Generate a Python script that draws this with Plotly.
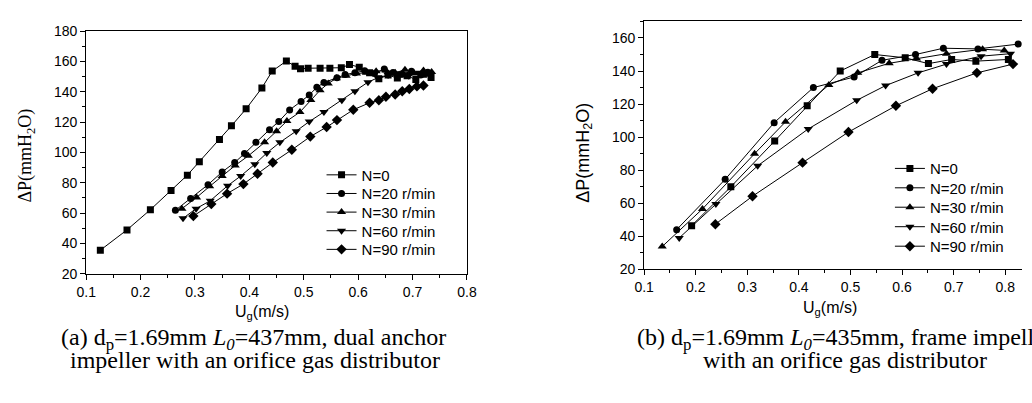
import plotly.graph_objects as go

# ---------------- data (a) dual anchor impeller ----------------
a_n0_x = [0.126, 0.175, 0.218, 0.256, 0.286, 0.308, 0.345, 0.367, 0.394, 0.423, 0.442, 0.468, 0.484, 0.494,
          0.508, 0.530, 0.548, 0.569, 0.584, 0.602, 0.621, 0.638, 0.655, 0.672, 0.690, 0.706, 0.720, 0.734]
a_n0_y = [35.5, 48.9, 62.2, 74.9, 85.0, 93.9, 108.5, 117.5, 128.7, 142.5, 153.6, 160.2, 156.8, 155.1,
          155.5, 155.5, 155.5, 155.8, 157.9, 156.2, 152.5, 148.5, 151.0, 149.0, 150.5, 148.0, 151.5, 149.4]
a_n20_x = [0.264, 0.292, 0.324, 0.350, 0.373, 0.391, 0.412, 0.437, 0.454, 0.474, 0.495, 0.510, 0.524, 0.537,
           0.561, 0.576, 0.594, 0.612, 0.630, 0.648, 0.664, 0.681, 0.698, 0.715, 0.728]
a_n20_y = [61.8, 69.6, 78.7, 87.1, 93.3, 99.2, 106.6, 115.0, 120.3, 128.0, 133.6, 137.8, 142.9, 146.0,
           149.2, 151.3, 152.5, 153.8, 152.0, 155.0, 152.6, 151.5, 153.5, 151.0, 152.8]
a_n30_x = [0.276, 0.303, 0.327, 0.350, 0.374, 0.398, 0.428, 0.450, 0.469, 0.493, 0.513, 0.530, 0.545, 0.560,
           0.578, 0.597, 0.615, 0.633, 0.651, 0.668, 0.686, 0.703, 0.720, 0.735]
a_n30_y = [62.9, 70.3, 77.6, 84.4, 91.4, 97.7, 106.6, 114.0, 120.7, 126.6, 134.5, 141.0, 145.5, 148.8,
           150.5, 152.0, 152.5, 153.5, 154.0, 152.5, 154.5, 152.0, 154.0, 153.0]
a_n60_x = [0.278, 0.302, 0.328, 0.360, 0.384, 0.410, 0.432, 0.456, 0.486, 0.510, 0.537, 0.570, 0.594, 0.618,
           0.636, 0.655, 0.674, 0.693, 0.712, 0.730]
a_n60_y = [56.5, 62.9, 68.1, 78.0, 84.4, 92.2, 99.6, 106.6, 114.0, 120.3, 126.6, 134.4, 140.3, 146.3,
           149.2, 151.0, 152.0, 150.5, 152.5, 151.5]
a_n90_x = [0.297, 0.330, 0.359, 0.389, 0.415, 0.443, 0.478, 0.512, 0.542, 0.561, 0.591, 0.621, 0.638, 0.651,
           0.668, 0.681, 0.694, 0.708, 0.720]
a_n90_y = [58.0, 65.9, 72.8, 79.1, 85.9, 93.3, 101.7, 110.4, 116.7, 121.3, 128.1, 132.7, 134.4, 136.7,
           138.2, 140.3, 141.8, 143.5, 144.1]

# ---------------- data (b) frame impeller ----------------
b_n0_x = [0.192, 0.268, 0.353, 0.416, 0.480, 0.547, 0.606, 0.651, 0.696, 0.743, 0.806]
b_n0_y = [46.5, 70.0, 97.7, 119.0, 140.0, 150.0, 148.0, 144.5, 147.0, 146.0, 147.0]
b_n20_x = [0.163, 0.257, 0.352, 0.428, 0.507, 0.561, 0.626, 0.680, 0.747, 0.825]
b_n20_y = [44.1, 74.5, 108.8, 130.0, 136.4, 146.5, 150.0, 153.8, 153.4, 156.3]
b_n30_x = [0.135, 0.213, 0.314, 0.374, 0.458, 0.514, 0.575, 0.628, 0.686, 0.756, 0.798]
b_n30_y = [33.9, 56.6, 90.0, 109.3, 131.6, 138.9, 144.7, 147.6, 150.5, 153.2, 152.5]
b_n60_x = [0.168, 0.239, 0.320, 0.418, 0.512, 0.568, 0.631, 0.686, 0.753, 0.810]
b_n60_y = [39.1, 59.6, 82.7, 105.0, 122.3, 131.2, 138.9, 144.2, 149.0, 150.5]
b_n90_x = [0.238, 0.310, 0.407, 0.496, 0.588, 0.659, 0.745, 0.815]
b_n90_y = [47.4, 64.3, 84.6, 103.1, 119.0, 129.3, 138.9, 144.2]

series_names = ["N=0", "N=20 r/min", "N=30 r/min", "N=60 r/min", "N=90 r/min"]
symbols = ["square", "circle", "triangle-up", "triangle-down", "diamond"]
sizes = [7, 7, 8, 8, 8]

caption_a = ["(a) d<sub>p</sub>=1.69mm <i>L<sub>0</sub></i>=437mm, dual anchor",
             "impeller with an orifice gas distributor"]
caption_b = ["(b) d<sub>p</sub>=1.69mm <i>L<sub>0</sub></i>=435mm, frame impeller",
             "with an orifice gas distributor"]
y_title = "ΔP(mmH<sub>2</sub>O)"
x_title = "U<sub>g</sub>(m/s)"

W, H = 1032, 403
def px(x):
    return x / W
def py(y):
    return (H - y) / H

SANS = "Liberation Sans, Arial, sans-serif"
SERIF = "Liberation Serif, Times New Roman, serif"

# legend rows (pixel centres) and text start
a_leg_rows = [174, 193.4, 212.8, 232.2, 251.6]
b_leg_rows = [167.3, 187.5, 207.7, 228.0, 248.3]
a_leg_x = 317.7
b_leg_x = 897.3

fig = go.Figure()

a_data = [(a_n0_x, a_n0_y), (a_n20_x, a_n20_y), (a_n30_x, a_n30_y), (a_n60_x, a_n60_y), (a_n90_x, a_n90_y)]
b_data = [(b_n0_x, b_n0_y), (b_n20_x, b_n20_y), (b_n30_x, b_n30_y), (b_n60_x, b_n60_y), (b_n90_x, b_n90_y)]

legends = {}
k = 0
for panel, data, rows, lx, xa, ya in [("a", a_data, a_leg_rows, a_leg_x, "x", "y"),
                                       ("b", b_data, b_leg_rows, b_leg_x, "x2", "y2")]:
    for (xs, ys), nm, sym, sz, row in zip(data, series_names, symbols, sizes, rows):
        k += 1
        lid = "legend" if k == 1 else f"legend{k}"
        fig.add_trace(go.Scatter(x=xs, y=ys, mode="lines+markers", name=nm,
                                 line=dict(color="black", width=1),
                                 marker=dict(symbol=sym, size=sz, color="black"),
                                 xaxis=xa, yaxis=ya, legend=lid))
        legends[lid] = dict(x=px(lx), y=py(row), xanchor="left", yanchor="middle",
                            bgcolor="rgba(0,0,0,0)", borderwidth=0, itemwidth=30,
                            font=dict(family=SANS, size=15, color="black"))

def axis(**kw):
    d = dict(showline=True, linecolor="black", linewidth=1, ticks="outside", ticklen=5,
             tickwidth=1, tickcolor="black", showgrid=False, zeroline=False,
             tickfont=dict(family=SANS, size=14, color="black"))
    d.update(kw)
    return d

# left plot area: x 77.7..466, y 24..276.7 px
# right plot area: x 646.7..1032, y 14..272.3 px
fig.update_layout(
    width=W, height=H, margin=dict(l=0, r=0, t=0, b=0),
    paper_bgcolor="white", plot_bgcolor="white",
    xaxis=axis(domain=[px(77.7), px(466)], anchor="y", range=[0.1, 0.8], tick0=0.1, dtick=0.1,
               mirror=True, tickformat=".1f",
               minor=dict(ticks="outside", ticklen=3, tickcolor="black", tick0=0.05, dtick=0.05)),
    yaxis=axis(domain=[py(276.7), py(24)], anchor="x", range=[20, 180], tick0=20, dtick=20,
               mirror=True,
               minor=dict(ticks="outside", ticklen=3, tickcolor="black", tick0=10, dtick=10)),
    xaxis2=axis(domain=[px(646.7), 1.0], anchor="y2", range=[0.1, 0.8324], tick0=0.1, dtick=0.1,
                mirror=True, tickformat=".1f",
                minor=dict(ticks="outside", ticklen=3, tickcolor="black", tick0=0.05, dtick=0.05)),
    yaxis2=axis(domain=[py(272.3), py(14)], anchor="x2", range=[20, 170], tick0=20, dtick=20,
                mirror=False,
                minor=dict(ticks="outside", ticklen=3, tickcolor="black", tick0=10, dtick=10)),
    showlegend=True,
    **legends,
)

ann = []
ann.append(dict(text=y_title, x=px(17), y=py(154), xref="paper", yref="paper", showarrow=False,
                textangle=-90, xanchor="center", yanchor="middle",
                font=dict(family=SERIF, size=18, color="black")))
ann.append(dict(text=y_title, x=px(585), y=py(151), xref="paper", yref="paper", showarrow=False,
                textangle=-90, xanchor="center", yanchor="middle",
                font=dict(family=SANS, size=18, color="black")))
ann.append(dict(text=x_title, x=px(257), y=py(317), xref="paper", yref="paper", showarrow=False,
                xanchor="center", yanchor="middle", font=dict(family=SANS, size=16, color="black")))
ann.append(dict(text=x_title, x=px(836), y=py(313), xref="paper", yref="paper", showarrow=False,
                xanchor="center", yanchor="middle", font=dict(family=SANS, size=16, color="black")))
for i, (cx, txt) in enumerate(zip([248, 250], caption_a)):
    ann.append(dict(text=txt, x=px(cx), y=py(345 + 22 * i), xref="paper", yref="paper", showarrow=False,
                    xanchor="center", yanchor="middle", font=dict(family=SERIF, size=24, color="black")))
# caption (b) runs off the right edge of the picture, as in the reference
for i, (cx, txt) in enumerate(zip([851, 851], caption_b)):
    ann.append(dict(text=txt, x=px(cx), y=py(345 + 22 * i), xref="paper", yref="paper", showarrow=False,
                    xanchor="center", yanchor="middle", font=dict(family=SERIF, size=24, color="black")))
fig.update_layout(annotations=ann)

fig.write_html("out.html", config={"displayModeBar": False},
               post_script="document.body.style.margin='0';")
